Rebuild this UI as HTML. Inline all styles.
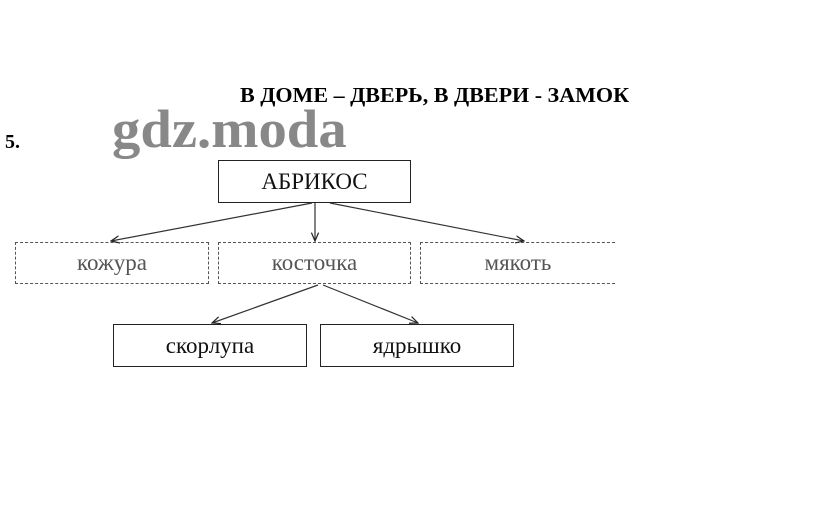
<!DOCTYPE html>
<html><head><meta charset="utf-8"><style>
body{margin:0;background:#fff;width:823px;height:505px;overflow:hidden;position:relative;font-family:"Liberation Serif",serif}
.t{position:absolute;white-space:nowrap;transform-origin:0 0}
.b{position:absolute;border:1.5px solid #222;box-sizing:border-box;display:flex;align-items:center;justify-content:center;font-size:23px;color:#111}
.d{border:1.5px dashed #555;color:#555}
</style></head><body>
<div class="t" style="left:240px;top:83px;font-size:21px;font-weight:bold;transform:scaleX(1.05)">В ДОМЕ – ДВЕРЬ, В ДВЕРИ - ЗАМОК</div>
<div class="t" style="left:5px;top:131px;font-size:20px;font-weight:bold">5.</div>
<div class="t" style="left:112px;top:98px;font-size:54px;font-weight:bold;color:#888;transform:scaleX(1.05)">gdz.moda</div>
<div class="b" style="left:218px;top:160px;width:193px;height:43px">АБРИКОС</div>
<div class="b d" style="left:15px;top:242px;width:194px;height:42px">кожура</div>
<div class="b d" style="left:218px;top:242px;width:193px;height:42px">косточка</div>
<div class="b d" style="left:420px;top:242px;width:195px;height:42px;border-right:none">мякоть</div>
<div class="b" style="left:113px;top:324px;width:194px;height:43px">скорлупа</div>
<div class="b" style="left:320px;top:324px;width:194px;height:43px">ядрышко</div>
<svg width="823" height="505" style="position:absolute;left:0;top:0">
<defs><marker id="a" markerWidth="8" markerHeight="8" refX="7" refY="4" orient="auto"><path d="M0,1 L7,4 L0,7" fill="none" stroke="#222" stroke-width="1"/></marker></defs>
<g stroke="#333" stroke-width="1.2" fill="none" marker-end="url(#a)">
<line x1="312" y1="203" x2="111" y2="241"/>
<line x1="315" y1="203" x2="315" y2="241"/>
<line x1="330" y1="203" x2="524" y2="241"/>
<line x1="318" y1="285" x2="212" y2="323"/>
<line x1="323" y1="285" x2="418" y2="323"/>
</g></svg>
</body></html>
